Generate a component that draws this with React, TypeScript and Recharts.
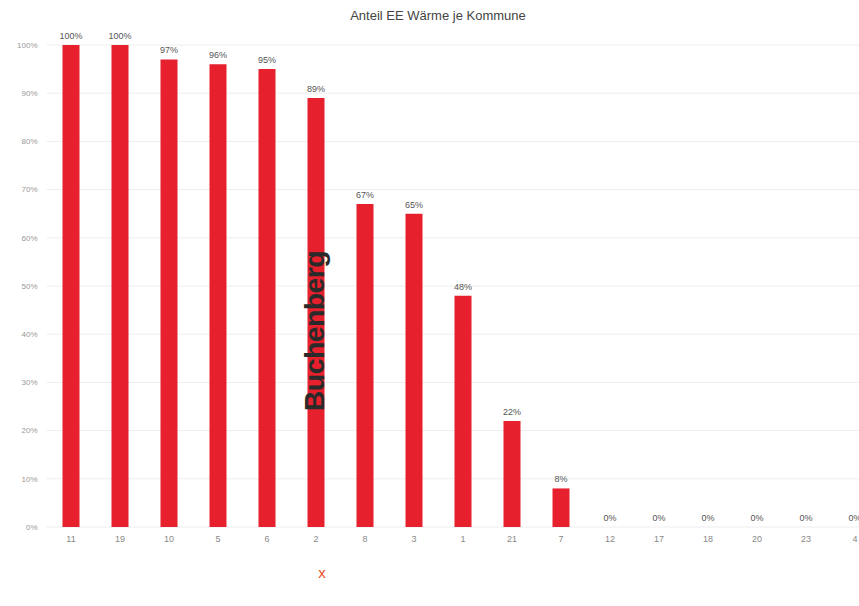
import React from "react";
import { ComposedChart, Bar, Line, XAxis, YAxis, CartesianGrid, LabelList } from "recharts";

const categories = ["11", "19", "10", "5", "6", "2", "8", "3", "1", "21", "7", "12", "17", "18", "20", "23", "4"];
const shares = [100, 100, 97, 96, 95, 89, 67, 65, 48, 22, 8, 0, 0, 0, 0, 0, 0];
const yTicks = [0, 10, 20, 30, 40, 50, 60, 70, 80, 90, 100];
const title = "Anteil EE Wärme je Kommune";
const overlayWord = "Buchenberg";

const data = categories.map((c, i) => ({ name: c, value: shares[i] }));
const FONT = "'Liberation Sans', Arial, sans-serif";

export default function App() {
  return (
    <div style={{ position: "fixed", left: 0, top: 0, width: 859, height: 606, overflow: "hidden", background: "#fff", fontFamily: FONT }}>
      <div style={{ position: "absolute", left: 0, width: 876, top: 8, textAlign: "center", fontSize: 13, color: "#444" }}>{title}</div>
      <ComposedChart width={890} height={600} data={data} margin={{ top: 45, right: 10.5, bottom: 43, left: 6.5 }}>
        <CartesianGrid vertical={false} stroke="#eeeeee" />
        <XAxis dataKey="name" tickLine={false} axisLine={false} tickSize={6} tickMargin={3} tick={{ fontSize: 9, fill: "#888", fontFamily: FONT }} interval={0} minTickGap={0} />
        <YAxis width={40} domain={[0, 100]} ticks={yTicks} tickFormatter={(v) => `${v}%`} tickLine={false} axisLine={false} tickSize={6} tickMargin={3} tick={{ fontSize: 8, fill: "#999", fontFamily: FONT }} />
        <Bar dataKey="value" fill="#E6202C" barSize={17} isAnimationActive={false} />
        <Line dataKey="value" stroke="none" dot={false} activeDot={false} isAnimationActive={false}>
          <LabelList dataKey="value" position="top" offset={6} formatter={(v: number) => `${v}%`} style={{ fontSize: 9, fill: "#555", fontFamily: FONT }} />
        </Line>
      </ComposedChart>
      <div style={{ position: "absolute", left: 314, top: 331, transform: "translate(-50%, -50%) rotate(-90deg)", fontSize: 28.5, fontWeight: "bold", color: "#2a2a2a", whiteSpace: "nowrap", letterSpacing: -0.6 }}>{overlayWord}</div>
      <div style={{ position: "absolute", left: 322, top: 572, transform: "translate(-50%, -50%)", fontSize: 15, color: "#E8502A" }}>x</div>
    </div>
  );
}
